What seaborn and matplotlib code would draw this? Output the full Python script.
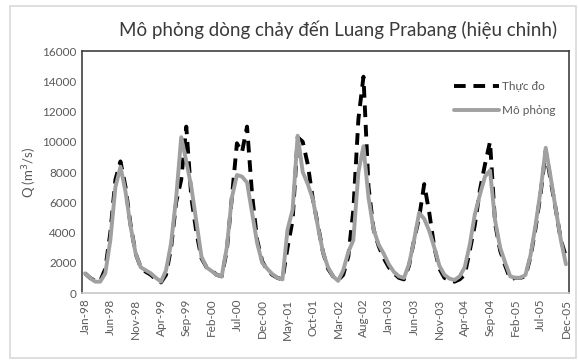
import numpy as np
import pandas as pd
import matplotlib
matplotlib.use("Agg")
import matplotlib.pyplot as plt
import seaborn as sns
from matplotlib.patches import Rectangle

# Monthly data Jan-1998 .. Dec-2005
months = pd.date_range("1998-01-01", "2005-12-01", freq="MS")
month_labels = [d.strftime("%b-%y") for d in months]

thuc_do = [  # observed
    1300, 1000, 800, 800, 1600, 4000, 7500, 8700, 7000, 4500, 2600, 1700,   # 1998
    1400, 1200, 900, 700, 1200, 3000, 6000, 7500, 11000, 6300, 4000, 2300,  # 1999
    1700, 1500, 1200, 1100, 2800, 6300, 9900, 9300, 11000, 6500, 3500, 2100,  # 2000
    1500, 1200, 1000, 900, 3000, 4800, 10300, 10000, 8500, 6200, 4500, 2700,  # 2001
    1600, 1100, 850, 1200, 2400, 5500, 11500, 14300, 7000, 4200, 3100, 2300,  # 2002
    1700, 1300, 1000, 900, 1800, 3500, 5000, 7200, 5300, 3000, 1600, 1000,  # 2003
    850, 750, 900, 1200, 2800, 4500, 6800, 8500, 10000, 4600, 2800, 1800,   # 2004
    900, 1000, 1000, 1100, 2400, 4300, 6600, 9400, 7400, 5500, 3500, 2400,  # 2005
]
mo_phong = [  # simulated
    1300, 1000, 750, 750, 1300, 3500, 7000, 8350, 6700, 4400, 2600, 1700,   # 1998
    1500, 1300, 1000, 750, 1500, 3300, 6300, 10300, 8700, 7000, 4700, 2400,  # 1999
    1700, 1450, 1200, 1100, 3000, 6300, 7800, 7700, 7300, 5300, 3300, 2000,  # 2000
    1600, 1250, 1000, 900, 4200, 5500, 10400, 8000, 7200, 6200, 4400, 2700,  # 2001
    1700, 1100, 800, 1500, 2700, 3500, 8000, 9700, 6300, 4200, 3200, 2600,  # 2002
    1900, 1400, 1100, 1000, 1900, 3500, 5300, 4900, 4100, 3000, 1800, 1200,  # 2003
    950, 860, 1100, 1700, 3200, 5200, 6500, 7700, 8100, 4800, 3000, 2000,   # 2004
    1100, 1000, 1000, 1200, 2500, 4500, 6800, 9600, 7600, 5500, 3500, 1900,  # 2005
]
series_names = ["Thực đo", "Mô phỏng"]
yticks = [0, 2000, 4000, 6000, 8000, 10000, 12000, 14000, 16000]
title = "Mô phỏng dòng chảy đến Luang Prabang (hiệu chỉnh)"
ylabel = "Q (m$^3$/s)"

idx = np.arange(len(months))
df = pd.DataFrame({
    "i": np.concatenate([idx, idx]),
    "Q": np.concatenate([thuc_do, mo_phong]),
    "series": [series_names[0]] * len(idx) + [series_names[1]] * len(idx),
})

sns.set_theme(style="white")
plt.rcParams["font.family"] = ["Lato", "DejaVu Sans"]

fig = plt.figure(figsize=(5.78, 3.63), dpi=100)
ax = fig.add_axes([82 / 578, 1 - 293 / 363, (569 - 82) / 578, (293 - 51) / 363])

# outer chart border
fig.patches.append(Rectangle((10 / 578, 5 / 363), 566 / 578, 352 / 363,
                             transform=fig.transFigure, fill=False,
                             edgecolor="#d9d9d9", linewidth=1.2))

sns.lineplot(data=df[df.series == series_names[0]], x="i", y="Q", ax=ax,
             color="black", linewidth=2.8, label=series_names[0])
ax.lines[-1].set_dashes([3.0, 2.0])
sns.lineplot(data=df[df.series == series_names[1]], x="i", y="Q", ax=ax,
             color="#a0a0a0", linewidth=2.8, label=series_names[1])

ax.set_xlim(-0.6, len(idx) - 0.4)
ax.set_ylim(0, 16000)
ax.set_yticks(yticks)
ax.set_yticklabels([str(v) for v in yticks], fontsize=8.5, color="#595959")
ax.set_xticks(idx[::5])
ax.set_xticklabels(month_labels[::5], rotation=90, fontsize=8.5, color="#595959")
ax.tick_params(axis="both", length=0, pad=4)
ax.set_xlabel("")
ax.set_ylabel(ylabel, fontsize=9.5, color="#595959", labelpad=2)

for s in ["left", "top", "right"]:
    ax.spines[s].set_color("#404040")
    ax.spines[s].set_linewidth(1.2)
ax.spines["bottom"].set_color("#c8c8c8")
ax.spines["bottom"].set_linewidth(1.2)

fig.text(338 / 578, 1 - 30 / 363, title, ha="center", va="center",
         fontsize=13.5, color="#3a3a3a")

leg = ax.legend(loc="upper right", bbox_to_anchor=(0.995, 0.92), frameon=False,
                fontsize=8.5, handlelength=3.8, labelspacing=1.1, handletextpad=0.3)
for t in leg.get_texts():
    t.set_color("#595959")

fig.savefig("out.png", dpi=100)
